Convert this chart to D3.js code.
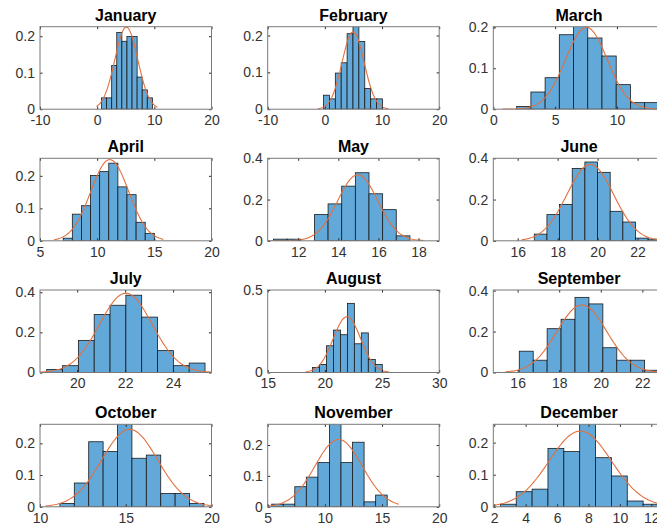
<!DOCTYPE html>
<html>
<head>
<meta charset="utf-8">
<script src="https://cdn.jsdelivr.net/npm/d3@7/dist/d3.min.js"></script>
<style>
body { margin: 0; background: #fff; }
text { font-family: "Liberation Sans", Arial, Helvetica, sans-serif; }
</style>
</head>
<body>
<div id="chart"></div>
<script>
// values
var months = ["January", "February", "March", "April", "May", "June",
    "July", "August", "September", "October", "November", "December"]

var xDomains = [[-10, 20], [-10, 20], [0, 13.87], [5, 20], [10.48, 19.03], [14.78, 23.36],
    [18.45, 25.6], [15, 30], [14.83, 23.08], [10, 20], [5, 20], [1.94, 12.86]]
var yMaxes = [0.226, 0.224, 0.2016, 0.254, 0.4, 0.4, 0.411, 0.5, 0.403, 0.26, 0.267, 0.257]

var xTicks = [[-10, 0, 10, 20], [-10, 0, 10, 20], [0, 5, 10], [5, 10, 15, 20], [12, 14, 16, 18],
    [16, 18, 20, 22], [20, 22, 24], [15, 20, 25, 30], [16, 18, 20, 22], [10, 15, 20],
    [5, 10, 15, 20], [2, 4, 6, 8, 10, 12]]
var yTicks = [[0, 0.1, 0.2], [0, 0.1, 0.2], [0, 0.1, 0.2], [0, 0.1, 0.2], [0, 0.2, 0.4],
    [0, 0.2, 0.4], [0, 0.2, 0.4], [0, 0.5], [0, 0.2, 0.4], [0, 0.1, 0.2], [0, 0.1, 0.2], [0, 0.1, 0.2]]

var binStarts = [0.76, -0.23, 1.89, 7.03, 10.77, 16.83, 18.73, 18.92, 16.08, 11.16, 5.35, 2.39]
var binWidths = [0.89, 1.03, 1.15, 0.797, 0.68, 0.633, 0.66, 0.61, 0.67, 0.84, 1.01, 1.01]
var binHeights = [
    [0.031, 0.031, 0.12, 0.21, 0.186, 0.199, 0.199, 0.088, 0.053, 0.031],
    [0.038, 0.028, 0.098, 0.126, 0.205, 0.235, 0.184, 0.056, 0.028, 0.028],
    [0.0066, 0.042, 0.077, 0.182, 0.205, 0.174, 0.13, 0.06, 0.016, 0.016],
    [0.008, 0.082, 0.108, 0.201, 0.213, 0.239, 0.166, 0.142, 0.057, 0.023],
    [0.008, 0.008, 0, 0.127, 0.179, 0.265, 0.33, 0.228, 0.151, 0.024],
    [0.0325, 0.127, 0.176, 0.351, 0.382, 0.332, 0.143, 0.091, 0.013, 0.008],
    [0.015, 0.034, 0.16, 0.289, 0.335, 0.385, 0.276, 0.109, 0.034, 0.047],
    [0.03, 0.049, 0.162, 0.257, 0.229, 0.419, 0.174, 0.24, 0.079, 0.049],
    [0.104, 0.06, 0.214, 0.26, 0.367, 0.335, 0.121, 0.06, 0.06, 0.011],
    [0.0105, 0.075, 0.205, 0.174, 0.27, 0.153, 0.163, 0.042, 0.042, 0.0105],
    [0.0086, 0.0086, 0.065, 0.096, 0.143, 0.28, 0.143, 0.209, 0.016, 0.038],
    [0.008, 0.047, 0.055, 0.182, 0.172, 0.27, 0.153, 0.096, 0.018, 0.008]
]

// normal fit curves (mean, sd, height of the peak)
var fitMeans = [5.1, 4.94, 7.53, 11.1, 14.97, 19.63, 22.03, 21.93, 19.09, 15.23, 11.2, 7.48]
var fitSds = [2.0, 1.93, 1.69, 1.66, 1.0, 1.17, 1.1, 1.2, 1.2, 1.63, 2.06, 1.98]
var fitPeaks = [0.225, 0.21, 0.2, 0.25, 0.32, 0.37, 0.395, 0.338, 0.33, 0.244, 0.218, 0.236]

var width = 657, height = 531
var colLeft = [40, 267.7, 493.3]
var rowTop = [26.7, 158.3, 290, 424.3]
var plotW = 171.5, plotH = 82.5

var svg = d3.select("#chart").append("svg")
    .attr("width", width).attr("height", height)

var fmt = function (d) { return String(d) }

months.forEach(function (name, i) {
    var left = colLeft[i % 3], top = rowTop[Math.floor(i / 3)]
    var x = d3.scaleLinear().domain(xDomains[i]).range([0, plotW])
    var y = d3.scaleLinear().domain([0, yMaxes[i]]).range([plotH, 0])

    var g = svg.append("g").attr("transform", "translate(" + [left, top] + ")")

    g.append("clipPath").attr("id", "clip" + i)
        .append("rect").attr("width", plotW).attr("height", plotH)

    var plot = g.append("g").attr("clip-path", "url(#clip" + i + ")")

    var bins = binHeights[i].map(function (h, k) {
        return {x0: binStarts[i] + k * binWidths[i], x1: binStarts[i] + (k + 1) * binWidths[i], h: h}
    })

    plot.selectAll(".bar").data(bins.filter(function (d) { return d.h > 0 }))
        .enter().append("rect").classed("bar", true)
        .attr("x", function (d) { return x(d.x0) })
        .attr("width", function (d) { return x(d.x1) - x(d.x0) })
        .attr("y", function (d) { return y(d.h) })
        .attr("height", function (d) { return plotH - y(d.h) })
        .attr("fill", "#62a8d9")
        .attr("stroke", "#1a1a1a")
        .attr("stroke-width", 0.8)

    // fitted curve
    var lo = binStarts[i] - binWidths[i], hi = binStarts[i] + 11 * binWidths[i]
    var pts = d3.range(0, 121).map(function (k) {
        var xv = lo + (hi - lo) * k / 120
        var z = (xv - fitMeans[i]) / fitSds[i]
        return [xv, fitPeaks[i] * Math.exp(-0.5 * z * z)]
    })
    plot.append("path").datum(pts)
        .attr("fill", "none")
        .attr("stroke", "#e2703f")
        .attr("stroke-width", 1.1)
        .attr("d", d3.line().x(function (d) { return x(d[0]) }).y(function (d) { return y(d[1]) }))

    // axes: ticks pointing inward on all four sides
    var xb = g.append("g").attr("transform", "translate(0," + plotH + ")")
        .call(d3.axisBottom(x).tickValues(xTicks[i]).tickFormat(fmt).tickSizeInner(-2.5).tickSizeOuter(0).tickPadding(6))
    var xt = g.append("g")
        .call(d3.axisTop(x).tickValues(xTicks[i]).tickFormat("").tickSizeInner(-2.5).tickSizeOuter(0))
    var yl = g.append("g")
        .call(d3.axisLeft(y).tickValues(yTicks[i]).tickFormat(fmt).tickSizeInner(-2.5).tickSizeOuter(0).tickPadding(5))
    var yr = g.append("g").attr("transform", "translate(" + plotW + ",0)")
        .call(d3.axisRight(y).tickValues(yTicks[i]).tickFormat("").tickSizeInner(-2.5).tickSizeOuter(0))

    ;[xb, xt, yl, yr].forEach(function (a) {
        a.select(".domain").remove()
        a.selectAll(".tick line").attr("stroke", "#262626")
        a.selectAll(".tick text").attr("fill", "#333").style("font-size", "14px")
            .style("font-family", '"Liberation Sans", Arial, sans-serif')
    })

    g.append("rect")
        .attr("width", plotW).attr("height", plotH)
        .attr("fill", "none")
        .attr("stroke", "#7a7a7a")
        .attr("stroke-width", 1)

    g.append("text")
        .attr("x", plotW / 2).attr("y", -6)
        .attr("text-anchor", "middle")
        .style("font-size", "16px")
        .style("font-weight", "bold")
        .attr("fill", "#000")
        .text(name)
})
</script>
</body>
</html>
